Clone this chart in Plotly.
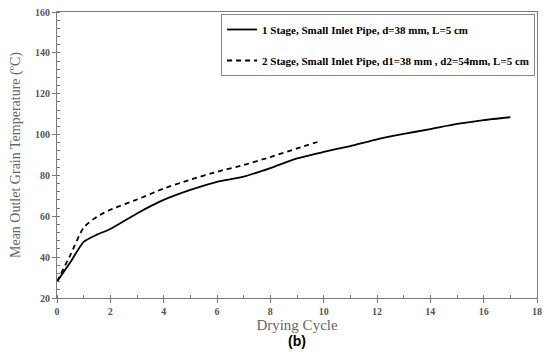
import plotly.graph_objects as go

# Data
x_stage1 = [0, 0.5, 1, 1.5, 2, 3, 4, 5, 6, 7, 8, 9, 10, 11, 12, 13, 14, 15, 16, 17]
y_stage1 = [28, 37.5, 47.5, 51, 53.8, 61.4, 68.0, 72.9, 76.9, 79.4, 83.6, 88.3, 91.5, 94.4, 97.7, 100.3, 102.7, 105.2, 107.1, 108.5]

x_stage2 = [0, 0.5, 1, 1.5, 2, 3, 4, 5, 6, 7, 8, 9, 9.92]
y_stage2 = [28, 41, 54.5, 59.8, 63.2, 68.2, 73.6, 77.9, 81.8, 85.1, 89.0, 93.2, 97.0]

name1 = "1 Stage, Small Inlet Pipe, d=38 mm, L=5 cm"
name2 = "2 Stage, Small Inlet Pipe, d1=38 mm , d2=54mm, L=5 cm"

x_ticks = list(range(0, 19, 2))
y_ticks = list(range(20, 161, 20))

serif = "Liberation Serif, Times New Roman, serif"
axis_col = "#7a7a7a"
tick_col = "#555555"

fig = go.Figure()
fig.add_trace(go.Scatter(x=x_stage1, y=y_stage1, mode="lines", name=name1,
                         legendgroup="a",
                         line=dict(color="black", width=1.8, shape="spline", smoothing=0.6)))
fig.add_trace(go.Scatter(x=x_stage2, y=y_stage2, mode="lines", name=name2,
                         legendgroup="b",
                         line=dict(color="black", width=1.8, dash="5px,4px", shape="spline", smoothing=0.6)))

# page body has an 8px default margin, so the figure is sized to fit the window
fig.update_layout(
    width=542, height=350,
    margin=dict(l=49, r=13, t=4, b=60, autoexpand=False),
    paper_bgcolor="white", plot_bgcolor="white",
    showlegend=True,
    legend=dict(x=0.996, y=0.993, xanchor="right", yanchor="top",
                bgcolor="white", bordercolor="#888888", borderwidth=1,
                font=dict(family=serif, size=11, color="black", weight="bold"),
                tracegroupgap=12, traceorder="grouped"),
    xaxis=dict(range=[0, 18], tickvals=x_ticks, ticktext=[str(v) for v in x_ticks],
               automargin=False, ticklabeloverflow="allow",
               showgrid=False, zeroline=False,
               showline=True, linecolor=axis_col, linewidth=1, mirror=True,
               ticks="outside", ticklen=4, tickcolor=axis_col,
               minor=dict(dtick=1, ticks="inside", ticklen=3, tickcolor=axis_col),
               tickfont=dict(family=serif, size=10, color=tick_col, weight="bold"),
               title=dict(text="Drying Cycle", font=dict(family=serif, size=15, color="#666666"),
                          standoff=0)),
    yaxis=dict(range=[20, 160], tickvals=y_ticks, ticktext=[str(v) for v in y_ticks],
               automargin=False, ticklabeloverflow="allow",
               showgrid=False, zeroline=False,
               showline=True, linecolor=axis_col, linewidth=1, mirror=True,
               ticks="outside", ticklen=4, tickcolor=axis_col,
               minor=dict(dtick=4, ticks="inside", ticklen=3, tickcolor=axis_col),
               tickfont=dict(family=serif, size=10, color=tick_col, weight="bold"),
               title=dict(text="Mean Outlet Grain Temperature (ºC)",
                          font=dict(family=serif, size=14, color="#666666"), standoff=19)),
)

fig.add_annotation(text="<b>(b)</b>", x=0.5, y=0, xref="paper", yref="paper",
                   xanchor="center", yanchor="top", yshift=-33, showarrow=False,
                   font=dict(family="Liberation Sans, Arial, sans-serif", size=14, color="black"))

fig.write_html("out.html")
